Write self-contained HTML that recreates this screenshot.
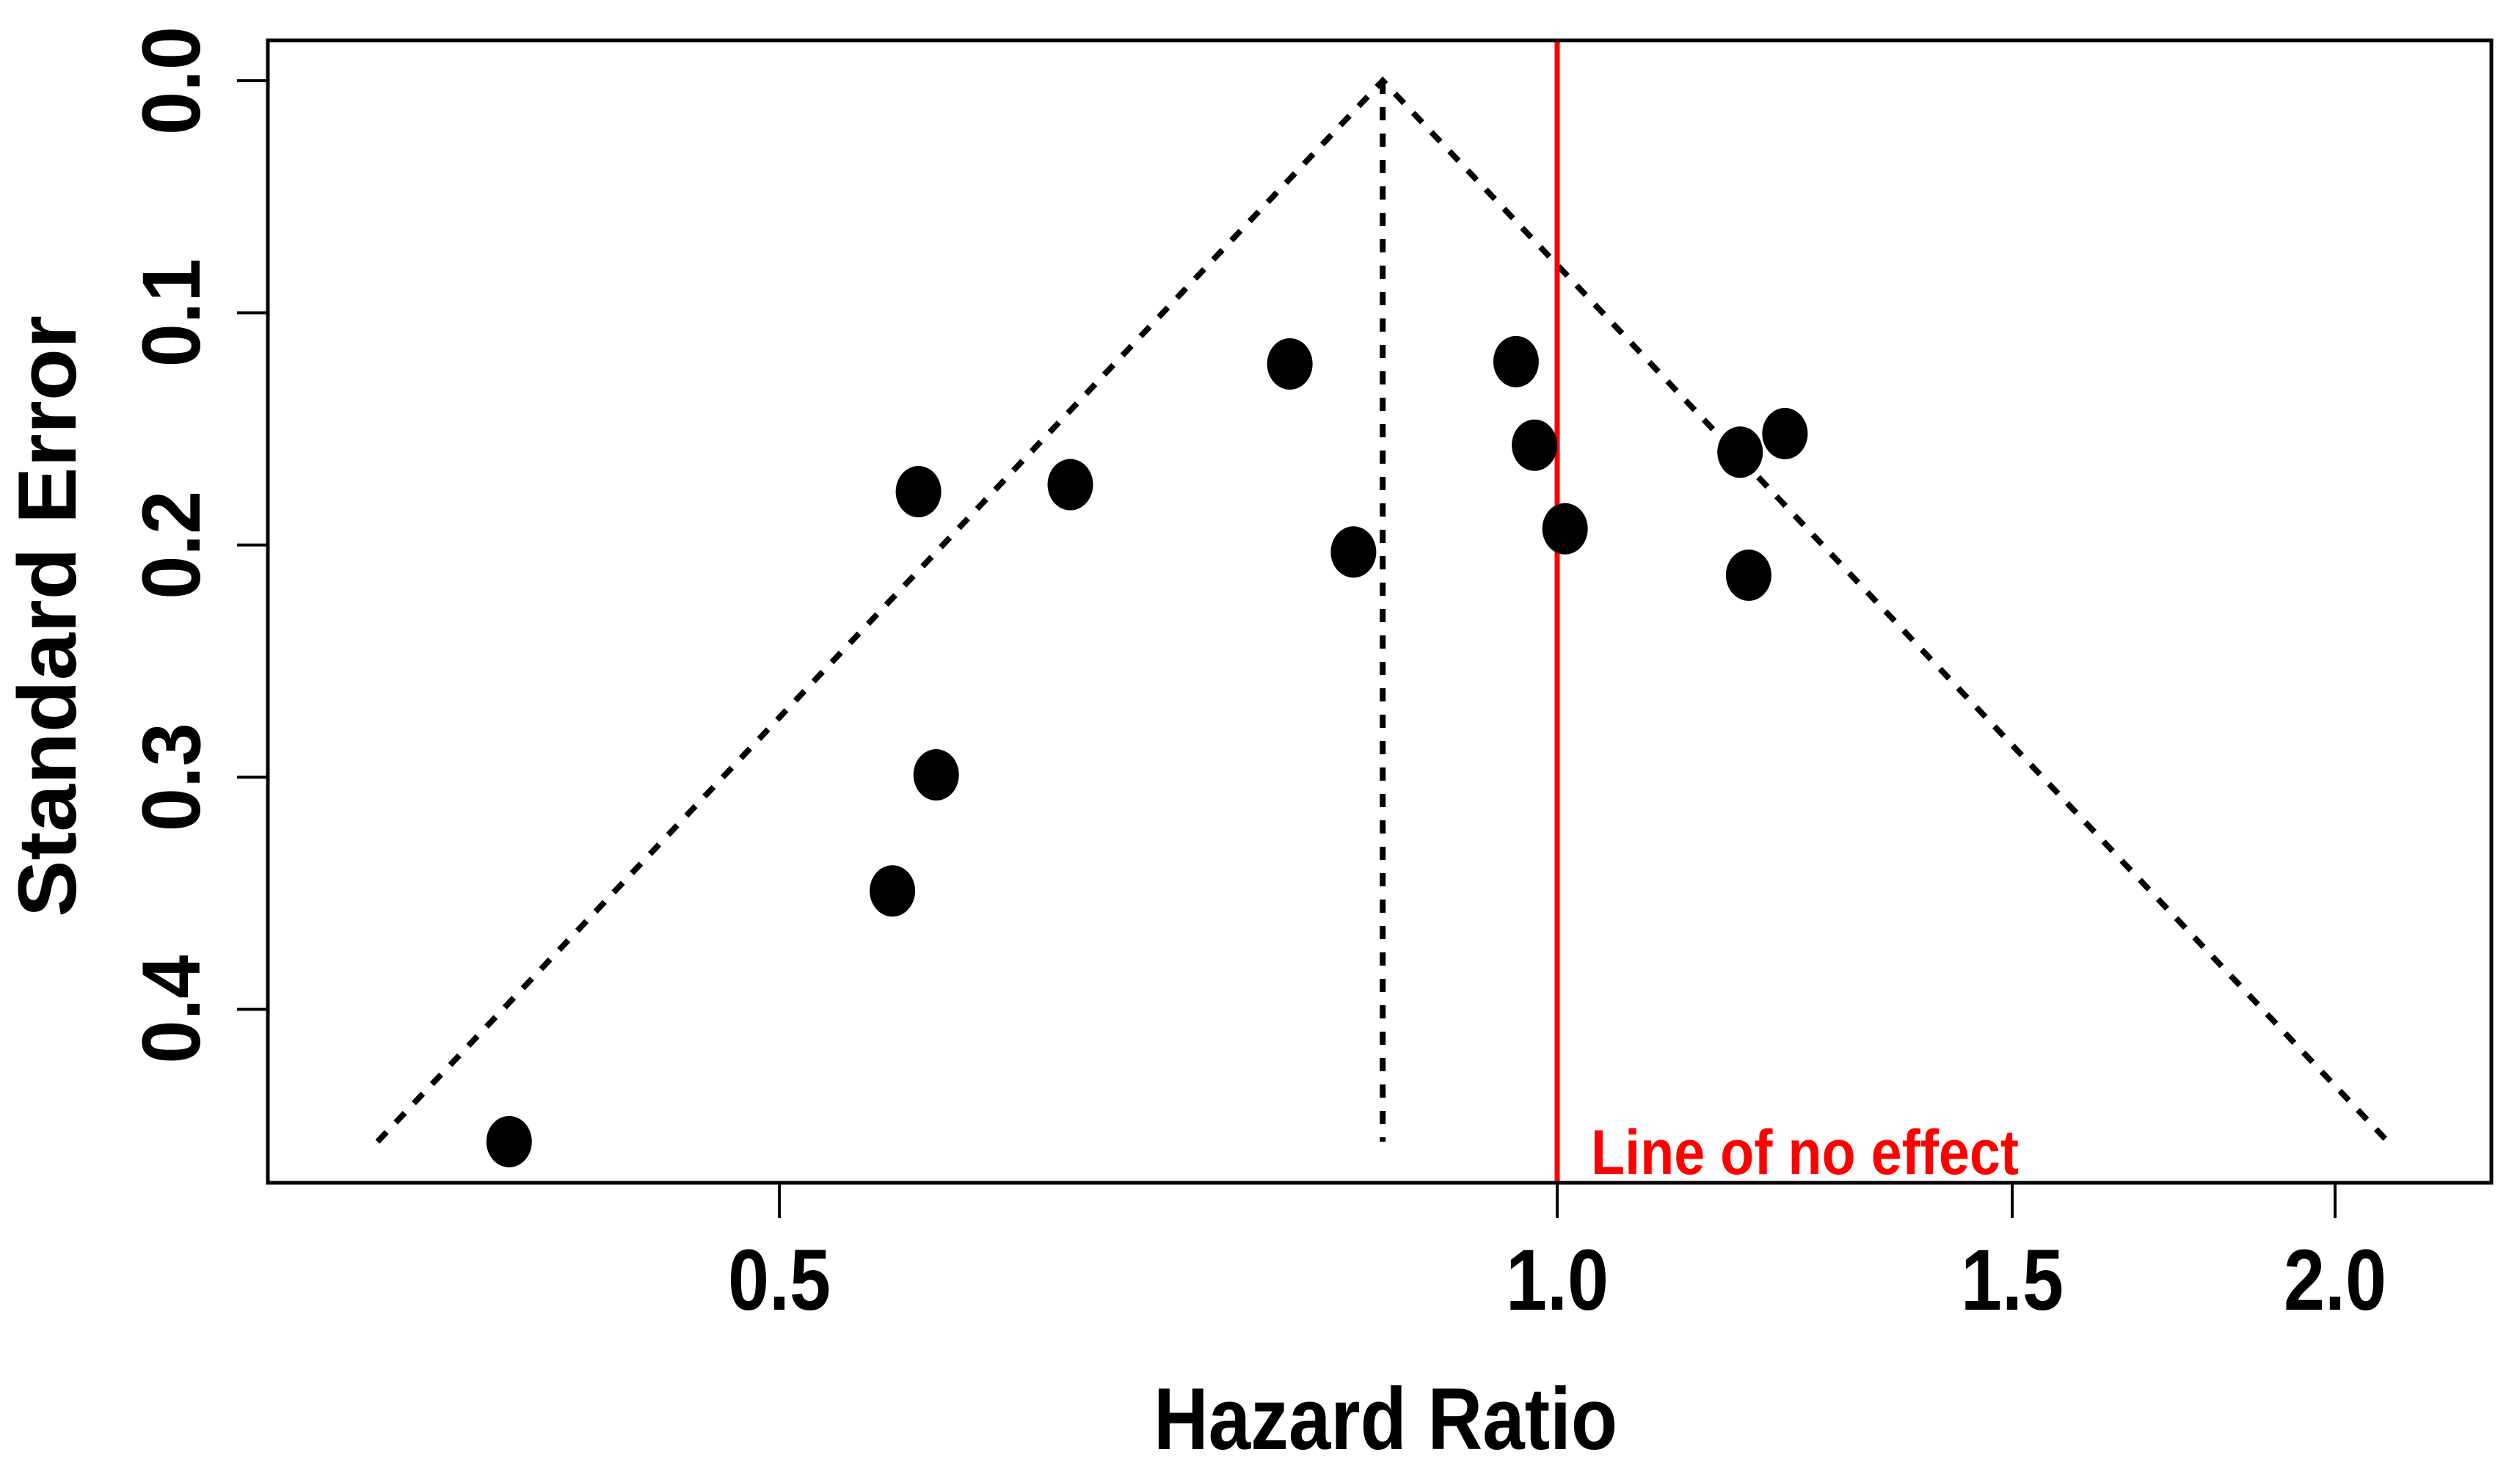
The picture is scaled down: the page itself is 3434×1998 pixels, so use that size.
<!DOCTYPE html>
<html><head><meta charset="utf-8"><style>
html,body{margin:0;padding:0;background:#fff;}
svg{display:block;}
text{font-family:"Liberation Sans",sans-serif;font-weight:bold;}
</style></head><body>
<svg id="chart" width="3434" height="1998" viewBox="0 0 3434 1998" xmlns="http://www.w3.org/2000/svg">
<rect x="0" y="0" width="3434" height="1998" fill="#fff"/>
<g id="marks"></g>
</svg>
<script>
const hazardRatios = [0.393, 0.566, 0.648, 0.575, 0.553, 0.788, 0.834, 0.964, 0.980, 1.007, 1.177, 1.225, 1.186];
const standardErrors = [0.457, 0.177, 0.174, 0.299, 0.349, 0.122, 0.203, 0.121, 0.157, 0.193, 0.160, 0.152, 0.213];
const pooledHR = [0.856];
const funnelMaxSE = [0.457];
const xTickValues = [0.5, 1.0, 1.5, 2.0];
const xTickLabels = ["0.5", "1.0", "1.5", "2.0"];
const yTickValues = [0.0, 0.1, 0.2, 0.3, 0.4];
const yTickLabels = ["0.0", "0.1", "0.2", "0.3", "0.4"];

const NS = "http://www.w3.org/2000/svg";
const g = document.getElementById('marks');
const plotL = 365, plotR = 3395, plotT = 55, plotB = 1612;
function xScale(hr){ return 2122 + 1060 * Math.log2(hr); }
function yScale(se){ return 110 + 3164 * se; }
function mk(tag, attrs, parent){
  const e = document.createElementNS(NS, tag);
  for (const k in attrs) e.setAttribute(k, attrs[k]);
  (parent || g).appendChild(e);
  return e;
}

const px = xScale(pooledHR[0]);
const seMax = funnelMaxSE[0];
const lo = Math.exp(Math.log(pooledHR[0]) - 1.96 * seMax);
const hi = Math.exp(Math.log(pooledHR[0]) + 1.96 * seMax);
const dashStyle = {stroke:"#000", "stroke-width":8, "stroke-dasharray":"18 18", fill:"none"};
let fl = mk('polyline', Object.assign({points: xScale(lo)+","+yScale(seMax)+" "+px+","+yScale(0)+" "+xScale(hi)+","+yScale(seMax)}, dashStyle));


let pl = mk('line', Object.assign({x1:px, x2:px, y1:yScale(0), y2:yScale(seMax)}, dashStyle));



let rl = mk('line', {x1:xScale(1), x2:xScale(1), y1:plotT, y2:plotB, stroke:"#f00", "stroke-width":7});


let rt = mk('text', {x:xScale(1)+46, y:1600, "font-size":86, fill:"#f00", textLength:583, lengthAdjust:"spacingAndGlyphs"});
rt.textContent = "Line of no effect";



for (let i = 0; i < hazardRatios.length; i++){
  const p = mk('ellipse', {cx:xScale(hazardRatios[i]), cy:yScale(standardErrors[i]), rx:31, ry:35, fill:"#000"});
  
  
}

let box = mk('rect', {x:plotL, y:plotT, width:plotR-plotL, height:plotB-plotT, fill:"none", stroke:"#000", "stroke-width":5});



for (let i = 0; i < xTickValues.length; i++){
  const x = xScale(xTickValues[i]);
  const t = mk('line', {x1:x, x2:x, y1:plotB, y2:plotB+48, stroke:"#000", "stroke-width":4});
  
  
  const l = mk('text', {x:x, y:1785, "font-size":118, "text-anchor":"middle", textLength:140, lengthAdjust:"spacingAndGlyphs"});
  l.textContent = xTickLabels[i];
  
  
}
for (let i = 0; i < yTickValues.length; i++){
  const y = yScale(yTickValues[i]);
  const t = mk('line', {x1:plotL-42, x2:plotL, y1:y, y2:y, stroke:"#000", "stroke-width":4});
  
  
  const l = mk('text', {x:0, y:0, "font-size":112, "text-anchor":"middle", transform:"translate(272,"+y+") rotate(-90)", textLength:148, lengthAdjust:"spacingAndGlyphs"});
  l.textContent = yTickLabels[i];
  
  
}
let xt = mk('text', {x:1888, y:1975, "font-size":120, "text-anchor":"middle", textLength:632, lengthAdjust:"spacingAndGlyphs"});
xt.textContent = "Hazard Ratio";


let yt = mk('text', {x:0, y:0, "font-size":112, "text-anchor":"middle", transform:"translate(103,840) rotate(-90)", textLength:820, lengthAdjust:"spacingAndGlyphs"});
yt.textContent = "Standard Error";


</script>
</body></html>
